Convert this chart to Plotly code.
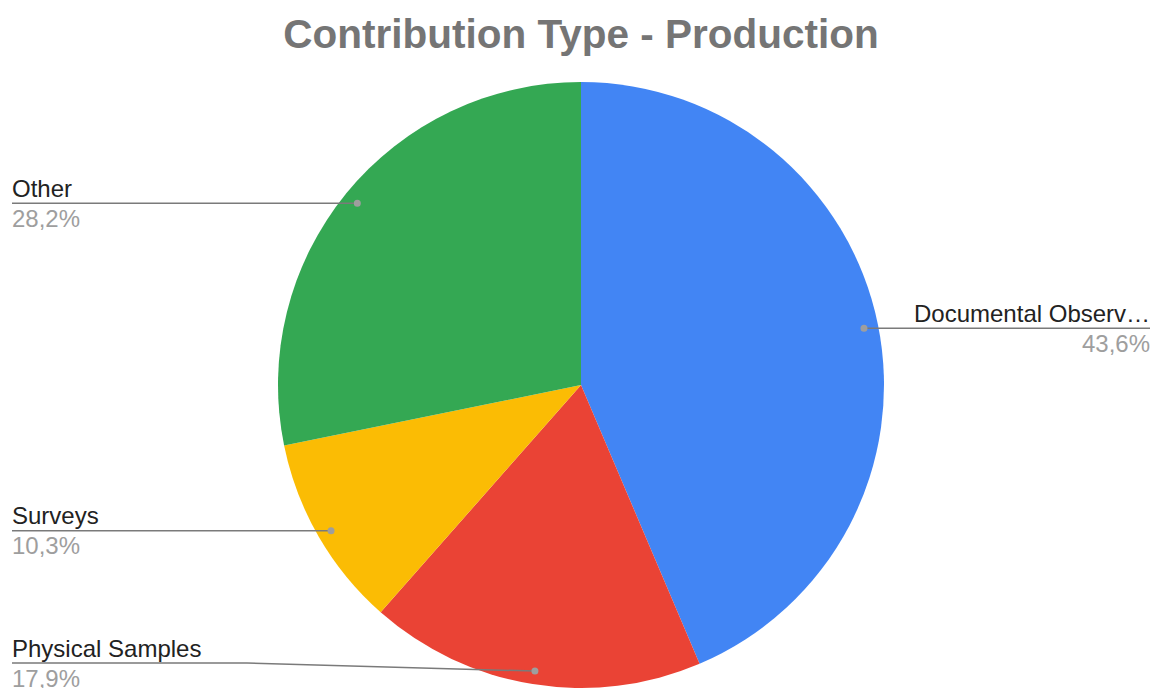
import math
import plotly.graph_objects as go

# ---- data ----
categories = ["Documental Observation", "Physical Samples", "Surveys", "Other"]
values = [43.6, 17.9, 10.3, 28.2]
colors = ["#4285F4", "#EA4335", "#FBBC04", "#34A853"]
title_text = "Contribution Type - Production"

# ---- layout geometry (pixels) ----
W, H = 1152, 688
CX, CY, R = 581, 386, 304
DOT_FRAC = 0.95
LEFT_X, RIGHT_X = 12, 1150
TEXT_PAD = 2
BEND_X = 247
MAX_LINE_Y = H - 25
FONT = "Liberation Sans, Arial, sans-serif"


def px(x):
    return x / W


def py(y):
    return 1 - y / H


def short(lbl, n=17):
    return lbl if len(lbl) <= n else lbl[:n] + "\u2026"


fig = go.Figure()
fig.add_trace(go.Pie(
    labels=categories,
    values=values,
    sort=False,
    direction="clockwise",
    rotation=0,
    marker=dict(colors=colors, line=dict(width=0)),
    textinfo="none",
    hole=0,
    showlegend=False,
    domain=dict(x=[px(CX - R), px(CX + R)], y=[max(0, (H - CY - R) / H), (H - CY + R) / H]),
))

shapes = []
annotations = []
total = sum(values)
cum = 0.0
for lbl, v in zip(categories, values):
    mid = (cum + v / 2) / total * 2 * math.pi
    cum += v
    dx = CX + DOT_FRAC * R * math.sin(mid)
    dy = CY - DOT_FRAC * R * math.cos(mid)
    yl = min(dy, MAX_LINE_Y)
    right = dx > CX
    if right:
        path = f"M {px(RIGHT_X)},{py(yl)} L {px(dx)},{py(dy)}"
        tx, anchor = RIGHT_X + TEXT_PAD, "right"
    else:
        bx = min(BEND_X, dx)
        path = f"M {px(LEFT_X)},{py(yl)} L {px(bx)},{py(yl)} L {px(dx)},{py(dy)}"
        tx, anchor = LEFT_X - TEXT_PAD, "left"
    shapes.append(dict(type="path", path=path, xref="paper", yref="paper",
                       line=dict(color="#7a7a7a", width=1.5), layer="above"))
    r = 3.5
    shapes.append(dict(type="circle", xref="paper", yref="paper",
                       x0=px(dx - r), x1=px(dx + r), y0=py(dy + r), y1=py(dy - r),
                       fillcolor="#9e9e9e", line=dict(width=0), layer="above"))
    annotations.append(dict(text=short(lbl), x=px(tx), y=py(yl - 15), xref="paper", yref="paper",
                            xanchor=anchor, yanchor="middle", showarrow=False,
                            font=dict(family=FONT, size=24, color="#222222")))
    pct = f"{v:.1f}%".replace(".", ",")
    annotations.append(dict(text=pct, x=px(tx), y=py(yl + 15), xref="paper", yref="paper",
                            xanchor=anchor, yanchor="middle", showarrow=False,
                            font=dict(family=FONT, size=24, color="#9e9e9e")))

fig.update_layout(
    width=W, height=H,
    margin=dict(l=0, r=0, t=0, b=0),
    paper_bgcolor="white",
    plot_bgcolor="white",
    title=dict(text=title_text, x=px(CX), xanchor="center", y=py(34), yanchor="middle",
               font=dict(family=FONT, size=40.5, color="#757575", weight="bold")),
    shapes=shapes,
    annotations=annotations,
)

fig.write_html("out.html")
